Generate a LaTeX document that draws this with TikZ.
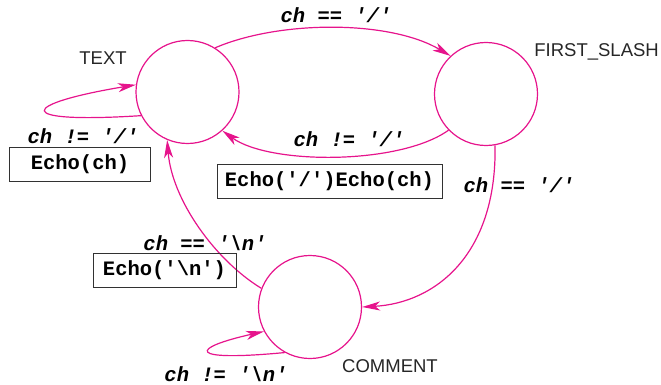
\documentclass[tikz,border=0pt]{standalone}
\usepackage{fontspec}
\setmainfont{Liberation Sans}
\newfontfamily\monofam{Liberation Mono}
\usetikzlibrary{arrows.meta}
\definecolor{edgec}{RGB}{230,20,140}
\definecolor{boxc}{RGB}{50,50,50}
\tikzset{
  state/.style={circle, draw=edgec, line width=1.2pt, minimum size=103pt, inner sep=0pt},
  trans/.style={draw=edgec, line width=1.2pt, -{Stealth[length=18pt,width=9pt,inset=5pt]}},
  cond/.style={font=\monofam\bfseries\itshape\fontsize{20.5}{24}\selectfont, inner sep=0pt},
  act/.style={draw=boxc, line width=0.9pt, font=\monofam\bfseries\fontsize{20.5}{24}\selectfont, inner sep=0pt, minimum height=34pt},
  sname/.style={font=\fontsize{18.5}{22}\selectfont, inner sep=0pt, text=black!85}
}
\begin{document}
\begin{tikzpicture}[x=1pt,y=-1pt]
\useasboundingbox (0,0) rectangle (661,385);
\node[state] (T) at (187.5,92) {};
\node[state] (F) at (486,94) {};
\node[state] (C) at (310,307) {};
\node[sname] (tT) at (103,58) {TEXT};
\node[sname,anchor=east] (tF) at (659,52) {FIRST\_SLASH};
\node[sname,anchor=west] (tC) at (342,366) {COMMENT};
% edges
\draw[trans] (T.58) .. controls (280,20) and (390,20) .. (F.133);
\draw[trans] (F.224) .. controls (400,165) and (270,165) .. (T.312);
\draw[trans] (F.280) .. controls (497,255) and (435,303) .. (C.0);
\draw[trans] (C.159) .. controls (215,260) and (172,200) .. (T.247);
\draw[trans] (T.207) .. controls (10,124) and (20,104) .. (T.172);
\draw[trans] (C.241) .. controls (185,362) and (190,348) .. (C.208);
% labels
\node[cond] (l1) at (336,15) {ch == '/'};
\node[cond] (l2) at (83,136) {ch != '/'};
\node[act, minimum width=141pt] (a2) at (80,164.5) {Echo(ch)};
\node[cond] (l3) at (349,139) {ch != '/'};
\node[act, minimum width=225pt] (a3) at (329.5,181) {Echo('/')Echo(ch)};
\node[cond] (l4) at (519,185) {ch == '/'};
\node[cond] (l5) at (205,243) {ch == '\textbackslash n'};
\node[act, minimum width=143pt] (a5) at (164.5,270) {Echo('\textbackslash n')};
\node[cond] (l6) at (226,374) {ch != '\textbackslash n'};
\end{tikzpicture}
\end{document}
